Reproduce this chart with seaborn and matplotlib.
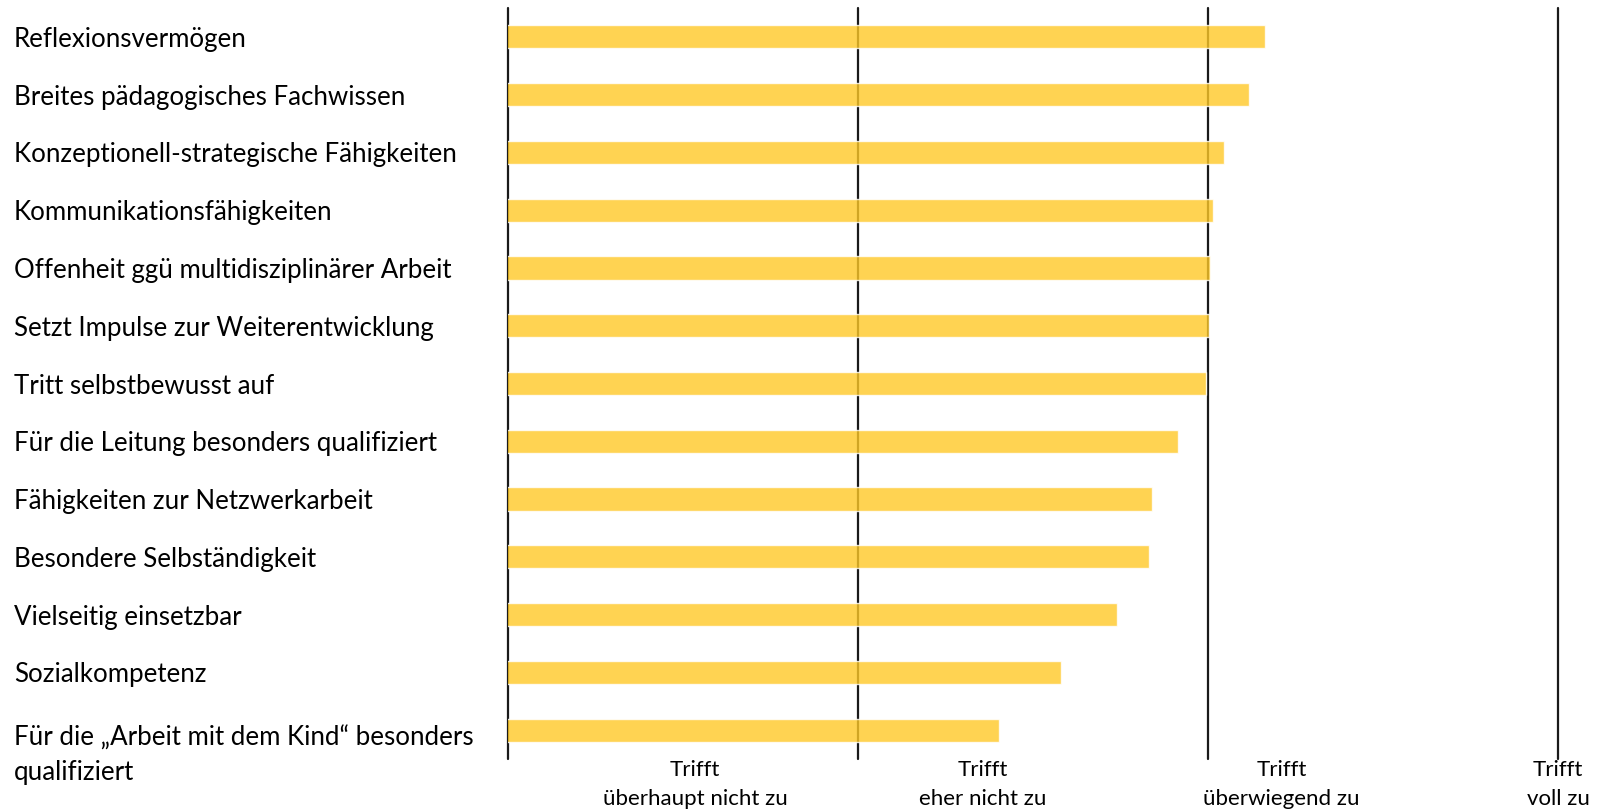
import matplotlib
matplotlib.use("Agg")
import matplotlib.pyplot as plt
import matplotlib.transforms as mtransforms
import seaborn as sns
import pandas as pd

categories = [
    "Reflexionsvermögen",
    "Breites pädagogisches Fachwissen",
    "Konzeptionell-strategische Fähigkeiten",
    "Kommunikationsfähigkeiten",
    "Offenheit ggü multidisziplinärer Arbeit",
    "Setzt Impulse zur Weiterentwicklung",
    "Tritt selbstbewusst auf",
    "Für die Leitung besonders qualifiziert",
    "Fähigkeiten zur Netzwerkarbeit",
    "Besondere Selbständigkeit",
    "Vielseitig einsetzbar",
    "Sozialkompetenz",
    "Für die „Arbeit mit dem Kind“ besonders\nqualifiziert",
]
values = [3.163, 3.116, 3.046, 3.014, 3.006, 3.003, 2.993,
          2.913, 2.841, 2.830, 2.739, 2.581, 2.403]

scale_lines = [1, 2, 3, 4]
tick_pos = [1.534, 2.357, 3.21, 4.0]
tick_labels = ["Trifft\nüberhaupt nicht zu", "Trifft\neher nicht zu",
               "Trifft\nüberwiegend zu", "Trifft\nvoll zu"]

sns.set_theme(style="white")
plt.rcParams["font.family"] = ["Lato", "DejaVu Sans"]

W, H = 1597, 810
fig = plt.figure(figsize=(W / 100, H / 100), dpi=100)
ax = fig.add_axes([508 / W, 51 / H, 1071 / W, (759 - 8) / H])

df = pd.DataFrame({"cat": categories, "val": values})
for x in scale_lines:
    ax.axvline(x, color="#1a1a1a", lw=1.6, zorder=1, clip_on=False)

sns.barplot(data=df, x="val", y="cat", orient="h", color="#FFC927",
            saturation=1, width=0.4, alpha=0.8, ax=ax, zorder=2)

ax.set_xlim(1, 4.06)
ax.set_ylim(12.5, -0.5)
for s in ax.spines.values():
    s.set_visible(False)
ax.set_xlabel("")
ax.set_ylabel("")
ax.set_yticks([])
ax.set_xticks(tick_pos)
ax.set_xticklabels(tick_labels, fontsize=16, color="black", linespacing=1.55)
ax.tick_params(axis="x", length=0, pad=1)

trans = mtransforms.blended_transform_factory(fig.transFigure, ax.transData)
for i, c in enumerate(categories):
    if "\n" in c:
        ax.text(14 / W, i + 0.43, c, transform=trans, ha="left", va="center",
                fontsize=18.6, color="black", clip_on=False, linespacing=1.45)
    else:
        ax.text(14 / W, i, c, transform=trans, ha="left", va="center_baseline",
                fontsize=18.6, color="black", clip_on=False)

fig.savefig("out.png", dpi=100)
